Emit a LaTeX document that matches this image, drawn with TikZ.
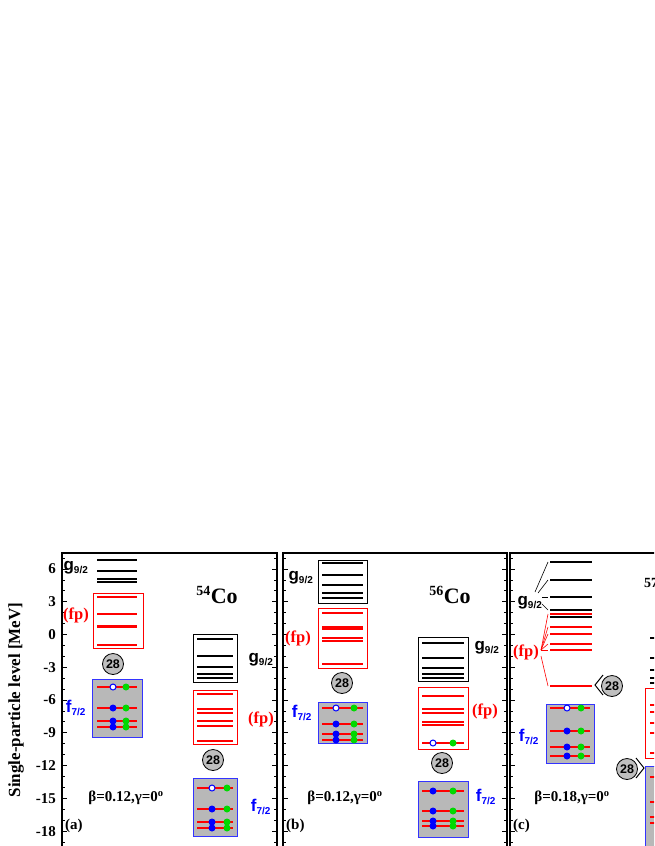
\documentclass[tikz,border=0pt]{standalone}
\usepackage{fontspec}
\setmainfont{Liberation Serif}
\newfontfamily\arialf{Liberation Sans}
\begin{document}
\begin{tikzpicture}[x=1pt,y=-1pt,
  frame/.style={draw=black,line width=1.8pt},
  rlev/.style={draw=red,line width=1.4pt},
  blev/.style={draw=black,line width=1.8pt},
  rbox/.style={draw=red,line width=0.9pt},
  kbox/.style={draw=black,line width=0.9pt},
  fbox/.style={draw=blue!80!white,line width=0.9pt,fill=black!28},
  bdot/.style={circle,fill=blue,inner sep=0pt,minimum size=7pt},
  wdot/.style={circle,draw=blue,fill=white,line width=1pt,inner sep=0pt,minimum size=6pt},
  gdot/.style={circle,fill=green!85!black,inner sep=0pt,minimum size=7pt},
  magic/.style={circle,draw=black,fill=black!25,line width=0.8pt,inner sep=0.5pt,minimum size=21pt,font=\arialf\bfseries\fontsize{12.5}{12.5}\selectfont},
  glab/.style={font=\arialf\bfseries\fontsize{17}{17}\selectfont,inner sep=0pt},
  flab/.style={font=\arialf\bfseries\fontsize{17}{17}\selectfont,text=blue,inner sep=0pt},
  fplab/.style={font=\bfseries\fontsize{16.5}{16.5}\selectfont,text=red,inner sep=0pt},
  txt/.style={font=\bfseries\fontsize{15}{15}\selectfont,inner sep=0pt},
  nuc/.style={font=\bfseries\fontsize{22}{22}\selectfont,inner sep=0pt},
  sub/.style={},
  tick/.style={font=\bfseries\fontsize{15}{15}\selectfont,anchor=east,inner sep=0pt}]
\useasboundingbox (0,0) rectangle (654,846);
\clip (0,0) rectangle (654,846);
% frames
\draw[frame] (62,553) rectangle (277,847);
\draw[frame] (283,553) rectangle (507,847);
\draw[frame] (510,553) rectangle (700,847);
% ticks
\foreach \xa/\xb in {62/277,283/507,510/700}{
  \foreach \k in {-19,...,7}{
    \pgfmathsetmacro\yy{569+(6-\k)*10.92}
    \pgfmathtruncatemacro\mm{mod(\k+30,3)==0 ? 1 : 0}
    \ifnum\mm=1
      \draw[line width=1pt] (\xa,\yy) -- ++(5,0); \draw[line width=1pt] (\xb,\yy) -- ++(-5,0);
    \else
      \draw[line width=0.8pt] (\xa,\yy) -- ++(3,0); \draw[line width=0.8pt] (\xb,\yy) -- ++(-3,0);
    \fi}}
\foreach \k in {6,3,0,-3,-6,-9,-12,-15,-18}{
  \pgfmathsetmacro\yy{569+(6-\k)*10.92}
  \node[tick] (t\k) at (56,\yy) {\k};}
\node[rotate=90,font=\bfseries\fontsize{17}{17}\selectfont] (ylab) at (16,700) {Single-particle level [MeV]};

% ===== panel a =====
\foreach \y in {560,571,579,582} \draw[blev] (97,\y) -- (137,\y);
\node[glab] (ag1) at (76,568) {g\textsubscript{\fontsize{10}{10}\selectfont 9/2}};
\draw[rbox] (93,593) rectangle (143,648);
\foreach \y in {597,614,625.5,627,645} \draw[rlev] (97,\y) -- (137,\y);
\node[fplab] (afp1) at (76,615) {(fp)};
\node[magic] (am1) at (113,664) {28};
\draw[fbox] (92,679) rectangle (142,737);
\foreach \y in {687,708,721,727} \draw[rlev] (97,\y) -- (137,\y);
\node[wdot] (aw) at (113,687) {};
\foreach \y in {708,721,727} \node[bdot] at (113,\y) {};
\foreach \y in {687,708,721,727} \node[gdot] at (126,\y) {};
\node[flab] (af1) at (76,708) {f\textsubscript{\fontsize{10}{10}\selectfont 7/2}};
\node[nuc] (anuc) at (217,595) {\textsuperscript{\fontsize{14}{14}\selectfont 54}Co};
\draw[kbox] (193,634) rectangle (237,682);
\foreach \y in {639,656,667,674,678} \draw[blev] (197,\y) -- (233,\y);
\node[glab] (ag2) at (261,660) {g\textsubscript{\fontsize{10}{10}\selectfont 9/2}};
\draw[rbox] (193,690) rectangle (237,744);
\foreach \y in {694,709,713,721,726,741} \draw[rlev] (197,\y) -- (233,\y);
\node[fplab] (afp2) at (261,719) {(fp)};
\node[magic] (am2) at (213,760) {28};
\draw[fbox] (193,778) rectangle (237,836);
\foreach \y in {788,809,822,828} \draw[rlev] (197,\y) -- (233,\y);
\node[wdot] at (212,788) {};
\foreach \y in {809,822,828} \node[bdot] at (212,\y) {};
\foreach \y in {788,809,822,828} \node[gdot] at (227,\y) {};
\node[flab] (af2) at (261,807) {f\textsubscript{\fontsize{10}{10}\selectfont 7/2}};
\node[txt] (abeta) at (126,798) {β=0.12,γ=0\textsuperscript{o}};
\node[txt,anchor=west] (alab) at (65,826) {(a)};

% ===== panel b =====
\draw[kbox] (318,560) rectangle (367,603);
\foreach \y in {563,575,585,593,598} \draw[blev] (322,\y) -- (363,\y);
\node[glab] (bg1) at (301,578) {g\textsubscript{\fontsize{10}{10}\selectfont 9/2}};
\draw[rbox] (318,608) rectangle (367,668);
\foreach \y in {613,627,629,638,641,664} \draw[rlev] (322,\y) -- (363,\y);
\node[fplab] (bfp1) at (298,638) {(fp)};
\node[magic] (bm1) at (342,683) {28};
\draw[fbox] (318,702) rectangle (367,743);
\foreach \y in {708,724,734,740} \draw[rlev] (322,\y) -- (363,\y);
\node[wdot] at (336,708) {};
\foreach \y in {724,734,740} \node[bdot] at (336,\y) {};
\foreach \y in {708,724,734,740} \node[gdot] at (354,\y) {};
\node[flab] (bf1) at (302,713) {f\textsubscript{\fontsize{10}{10}\selectfont 7/2}};
\node[nuc] (bnuc) at (450,595) {\textsuperscript{\fontsize{14}{14}\selectfont 56}Co};
\draw[kbox] (418,637) rectangle (468,681);
\foreach \y in {643,658,668,674,678} \draw[blev] (422,\y) -- (464,\y);
\node[glab] (bg2) at (487,648) {g\textsubscript{\fontsize{10}{10}\selectfont 9/2}};
\draw[rbox] (418,687) rectangle (468,749);
\foreach \y in {696,709,713,722,725,743} \draw[rlev] (422,\y) -- (464,\y);
\node[wdot] at (433,743) {};
\node[gdot] at (453,743) {};
\node[fplab] (bfp2) at (485,711) {(fp)};
\node[magic] (bm2) at (442,763) {28};
\draw[fbox] (418,781) rectangle (468,837);
\foreach \y in {791,811,821,826} \draw[rlev] (422,\y) -- (464,\y);
\foreach \y in {791,811,821,826} {\node[bdot] at (433,\y) {}; \node[gdot] at (453,\y) {};}
\node[flab] (bf2) at (486,797) {f\textsubscript{\fontsize{10}{10}\selectfont 7/2}};
\node[txt] (bbeta) at (345,798) {β=0.12,γ=0\textsuperscript{o}};
\node[txt,anchor=west] (blab) at (286,826) {(b)};

% ===== panel c =====
\node[glab] (cg) at (530,603) {g\textsubscript{\fontsize{10}{10}\selectfont 9/2}};
\foreach \y/\n in {562/1,580/2,597/3,610/4} {
  \draw[blev] (550,\y) -- (592,\y);
  \coordinate (cgl\n) at (548,\y);}
\draw[blev] (550,617) -- (592,617);
\draw[line width=0.6pt] (535,592) -- (cgl1);
\draw[line width=0.6pt] (538,593) -- (cgl2);
\draw[line width=0.6pt] (542,597) -- (cgl3);
\draw[line width=0.6pt] (542,604) -- (cgl4);
\node[fplab] (cfp) at (526,652) {(fp)};
\foreach \y/\n in {614/1,627/2,634/3,644/4,650/5,686/6} {
  \draw[rlev] (550,\y) -- (592,\y);
  \coordinate (cfl\n) at (548,\y);}
\foreach \n in {1,...,5} \draw[red,line width=0.6pt] (541,650) -- (cfl\n);
\draw[red,line width=0.6pt] (541,656) -- (cfl6);
\node[magic] (cm1) at (612,686) {28};
\draw[line width=1pt] (603,675) -- (595,685) -- (603,695);
\draw[fbox] (546,704) rectangle (594,763);
\foreach \y in {708,731,747,756} \draw[rlev] (550,\y) -- (590,\y);
\node[wdot] at (567,708) {};
\foreach \y in {731,747,756} \node[bdot] at (567,\y) {};
\foreach \y in {708,731,747,756} \node[gdot] at (581,\y) {};
\node[flab] (cf) at (529,737) {f\textsubscript{\fontsize{10}{10}\selectfont 7/2}};
\node[txt] (cbeta) at (572,798) {β=0.18,γ=0\textsuperscript{o}};
\node[txt,anchor=west] (clab) at (513,826) {(c)};
\node[nuc,anchor=west] (cnuc) at (644,587) {\textsuperscript{\fontsize{14}{14}\selectfont 57}Co};
\foreach \y in {638,658,670,678,683} \draw[blev] (650,\y) -- (700,\y);
\draw[rbox] (645,688) rectangle (700,758);
\foreach \y in {705,712,723,733,753} \draw[rlev] (650,\y) -- (700,\y);
\node[magic] (cm2) at (627,769) {28};
\draw[line width=1pt] (636,758) -- (644,768) -- (636,778);
\draw[fbox] (645,766) rectangle (700,850);
\foreach \y in {777,802,817,823} \draw[rlev] (650,\y) -- (700,\y);
\end{tikzpicture}
\end{document}
